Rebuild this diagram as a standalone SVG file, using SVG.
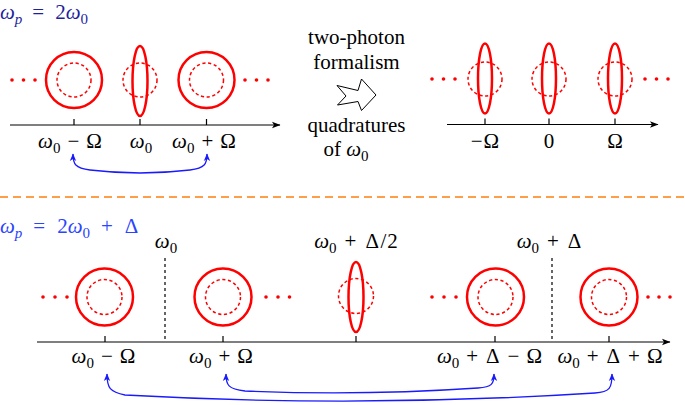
<svg xmlns="http://www.w3.org/2000/svg" width="685" height="405" viewBox="0 0 685 405">
<style>
  text { font-family: "Liberation Serif", "Times New Roman", serif; font-size: 21px; fill: #000; }
  .i { font-style: italic; }
  .sub { font-size: 15px; }
  .word { font-size: 21px; }
  .title1 { fill: #1f1f9e; }
  .title2 { fill: #2a44ff; }
  .outer { fill: none; stroke: #ff0000; stroke-width: 2.5; }
  .inner { fill: none; stroke: #ff0000; stroke-width: 1.5; stroke-dasharray: 3.2 2.6; }
  .dot { fill: #ff0000; }
  .axis { fill: none; stroke: #000; stroke-width: 1.2; }
  .tick { stroke: #000; stroke-width: 1.2; }
  .vdash { stroke: #000; stroke-width: 1.2; stroke-dasharray: 3 3; }
  .link { fill: none; stroke: #1a1aff; stroke-width: 1.3; marker-start: url(#bh); marker-end: url(#bh); }
  .sep { stroke: #ff7f0e; stroke-width: 1.4; stroke-dasharray: 8 5; }
</style>
<defs>
  <marker id="bh" viewBox="-8 -4 9 8" refX="0" refY="0" markerWidth="9" markerHeight="8" markerUnits="userSpaceOnUse" orient="auto-start-reverse">
    <path d="M0.5,0 L-7,-3.2 L-5,0 L-7,3.2 Z" fill="#1a1aff"/>
  </marker>
  <marker id="ah" viewBox="-9 -4 10 8" refX="0" refY="0" markerWidth="10" markerHeight="8" markerUnits="userSpaceOnUse" orient="auto">
    <path d="M0.5,0 L-8,-3.3 L-6,0 L-8,3.3 Z" fill="#000"/>
  </marker>
</defs>

<!-- titles -->
<text class="title1" x="0" y="19"><tspan class="i">ω</tspan><tspan class="sub i" dy="5">p</tspan><tspan dy="-5" dx="10">=</tspan><tspan dx="11">2</tspan><tspan class="i">ω</tspan><tspan class="sub" dy="5">0</tspan></text>
<text class="title2" x="0" y="233"><tspan class="i">ω</tspan><tspan class="sub i" dy="5">p</tspan><tspan dy="-5" dx="11">=</tspan><tspan dx="12">2</tspan><tspan class="i">ω</tspan><tspan class="sub" dy="5">0</tspan><tspan dy="-5" dx="11">+</tspan><tspan dx="12">Δ</tspan></text>

<!-- separator -->
<line class="sep" x1="0" y1="197" x2="685" y2="197"/>

<!-- middle text and hollow arrow -->
<g id="middle">
  <text class="word" x="356.5" y="44" text-anchor="middle">two-photon</text>
  <text class="word" x="356.5" y="69" text-anchor="middle">formalism</text>
  <path d="M337,85.5 L358,90.5 L361.5,79 L376,95 L361.5,110.5 L358,101.5 L337.5,105 L346,96 Z" fill="#fff" stroke="#000" stroke-width="1"/>
  <text class="word" x="356.5" y="132" text-anchor="middle">quadratures</text>
  <text class="word" x="346" y="156" text-anchor="middle">of <tspan class="i">ω</tspan><tspan class="sub" dy="5">0</tspan></text>
</g>

<!-- top-left panel -->
<g id="top-left">
  <line class="axis" x1="10" y1="125" x2="280" y2="125" marker-end="url(#ah)"/>
  <line class="tick" x1="74" y1="119" x2="74" y2="125"/>
  <line class="tick" x1="140" y1="119" x2="140" y2="125"/>
  <line class="tick" x1="206.5" y1="119" x2="206.5" y2="125"/>
  <circle class="dot" cx="12" cy="80" r="1.8"/><circle class="dot" cx="23.5" cy="80" r="1.8"/><circle class="dot" cx="35" cy="80" r="1.8"/>
  <circle class="dot" cx="245" cy="80" r="1.8"/><circle class="dot" cx="256.5" cy="80" r="1.8"/><circle class="dot" cx="268" cy="80" r="1.8"/>
  <g id="tl-n1"><circle class="outer" cx="74" cy="80" r="28"/><circle class="inner" cx="74" cy="80" r="17"/></g>
  <g id="tl-n2"><circle class="inner" cx="140" cy="80" r="17"/><ellipse class="outer" cx="140" cy="81" rx="7.5" ry="35"/></g>
  <g id="tl-n3"><circle class="outer" cx="206.5" cy="80" r="28"/><circle class="inner" cx="206.5" cy="80" r="17"/></g>
  <text x="70" y="148" text-anchor="middle"><tspan class="i">ω</tspan><tspan class="sub" dy="5">0</tspan><tspan dy="-5" dx="7">−</tspan><tspan dx="7">Ω</tspan></text>
  <text x="141" y="148" text-anchor="middle"><tspan class="i">ω</tspan><tspan class="sub" dy="5">0</tspan></text>
  <text x="204" y="148" text-anchor="middle"><tspan class="i">ω</tspan><tspan class="sub" dy="5">0</tspan><tspan dy="-5" dx="7">+</tspan><tspan dx="7">Ω</tspan></text>
</g>

<!-- top-right panel -->
<g id="top-right">
  <line class="axis" x1="447" y1="124.5" x2="658" y2="124.5" marker-end="url(#ah)"/>
  <line class="tick" x1="485" y1="118.5" x2="485" y2="124.5"/>
  <line class="tick" x1="549" y1="118.5" x2="549" y2="124.5"/>
  <line class="tick" x1="615" y1="118.5" x2="615" y2="124.5"/>
  <circle class="dot" cx="432" cy="79" r="1.8"/><circle class="dot" cx="443.5" cy="79" r="1.8"/><circle class="dot" cx="455" cy="79" r="1.8"/>
  <circle class="dot" cx="645" cy="79" r="1.8"/><circle class="dot" cx="656.5" cy="79" r="1.8"/><circle class="dot" cx="668" cy="79" r="1.8"/>
  <g id="tr-n1"><circle class="inner" cx="485" cy="79" r="17"/><ellipse class="outer" cx="485" cy="78.5" rx="7" ry="35"/></g>
  <g id="tr-n2"><circle class="inner" cx="549" cy="79" r="17"/><ellipse class="outer" cx="549" cy="78.5" rx="7" ry="35"/></g>
  <g id="tr-n3"><circle class="inner" cx="615" cy="79" r="17"/><ellipse class="outer" cx="615" cy="78.5" rx="7" ry="35"/></g>
  <text x="485" y="148" text-anchor="middle">−<tspan dx="1">Ω</tspan></text>
  <text x="549" y="148" text-anchor="middle">0</text>
  <text x="615" y="148" text-anchor="middle">Ω</text>
</g>

<!-- bottom panel -->
<g id="bottom">
  <line class="axis" x1="37" y1="342" x2="670" y2="342" marker-end="url(#ah)"/>
  <line class="tick" x1="105" y1="336" x2="105" y2="342"/>
  <line class="tick" x1="223" y1="336" x2="223" y2="342"/>
  <line class="tick" x1="356" y1="336" x2="356" y2="342"/>
  <line class="tick" x1="495" y1="336" x2="495" y2="342"/>
  <line class="tick" x1="609" y1="336" x2="609" y2="342"/>
  <line class="vdash" x1="165" y1="258" x2="165" y2="340"/>
  <line class="vdash" x1="552" y1="258" x2="552" y2="340"/>
  <circle class="dot" cx="43" cy="297" r="1.8"/><circle class="dot" cx="55" cy="297" r="1.8"/><circle class="dot" cx="67" cy="297" r="1.8"/>
  <circle class="dot" cx="266" cy="297" r="1.8"/><circle class="dot" cx="278" cy="297" r="1.8"/><circle class="dot" cx="289.5" cy="297" r="1.8"/>
  <circle class="dot" cx="432" cy="297" r="1.8"/><circle class="dot" cx="444" cy="297" r="1.8"/><circle class="dot" cx="456" cy="297" r="1.8"/>
  <circle class="dot" cx="648" cy="297" r="1.8"/><circle class="dot" cx="659" cy="297" r="1.8"/><circle class="dot" cx="670" cy="297" r="1.8"/>
  <g id="b-n1"><circle class="outer" cx="104.5" cy="297" r="28.5"/><circle class="inner" cx="104.5" cy="297" r="17.5"/></g>
  <g id="b-n2"><circle class="outer" cx="223" cy="297" r="28.5"/><circle class="inner" cx="223" cy="297" r="17.5"/></g>
  <g id="b-n3"><circle class="inner" cx="356" cy="296" r="17.5"/><ellipse class="outer" cx="356" cy="297" rx="7.5" ry="35"/></g>
  <g id="b-n4"><circle class="outer" cx="495.5" cy="297" r="28.5"/><circle class="inner" cx="495.5" cy="297" r="17.5"/></g>
  <g id="b-n5"><circle class="outer" cx="609" cy="297" r="28.5"/><circle class="inner" cx="609" cy="297" r="17.5"/></g>
  <text x="166" y="248" text-anchor="middle"><tspan class="i">ω</tspan><tspan class="sub" dy="5">0</tspan></text>
  <text x="356" y="248" text-anchor="middle"><tspan class="i">ω</tspan><tspan class="sub" dy="5">0</tspan><tspan dy="-5" dx="8">+</tspan><tspan dx="9">Δ</tspan><tspan dx="1.5">/</tspan><tspan dx="1">2</tspan></text>
  <text x="549" y="248" text-anchor="middle"><tspan class="i">ω</tspan><tspan class="sub" dy="5">0</tspan><tspan dy="-5" dx="8">+</tspan><tspan dx="9">Δ</tspan></text>
  <text x="103.5" y="363" text-anchor="middle"><tspan class="i">ω</tspan><tspan class="sub" dy="5">0</tspan><tspan dy="-5" dx="7">−</tspan><tspan dx="7">Ω</tspan></text>
  <text x="221" y="363" text-anchor="middle"><tspan class="i">ω</tspan><tspan class="sub" dy="5">0</tspan><tspan dy="-5" dx="7">+</tspan><tspan dx="7">Ω</tspan></text>
  <text x="489.5" y="363" text-anchor="middle"><tspan class="i">ω</tspan><tspan class="sub" dy="5">0</tspan><tspan dy="-5" dx="7">+</tspan><tspan dx="8">Δ</tspan><tspan dx="8">−</tspan><tspan dx="7">Ω</tspan></text>
  <text x="610" y="363" text-anchor="middle"><tspan class="i">ω</tspan><tspan class="sub" dy="5">0</tspan><tspan dy="-5" dx="7">+</tspan><tspan dx="8">Δ</tspan><tspan dx="8">+</tspan><tspan dx="7">Ω</tspan></text>
</g>

<!-- connectors -->
<g id="connectors">
  <path class="link" d="M73,154 C73,164 75,168 90,170 Q140,176 190,170 C205,168 207,164 207,154"/>
  <path class="link" d="M226,374 C226,385 228,389 245,391 Q360,396 478,388 C492,387 494,384 494,374"/>
  <path class="link" d="M107,374 C107,388 110,392 125,395 Q360,408 595,393 C610,392 612,388 612,374"/>
</g>
</svg>
